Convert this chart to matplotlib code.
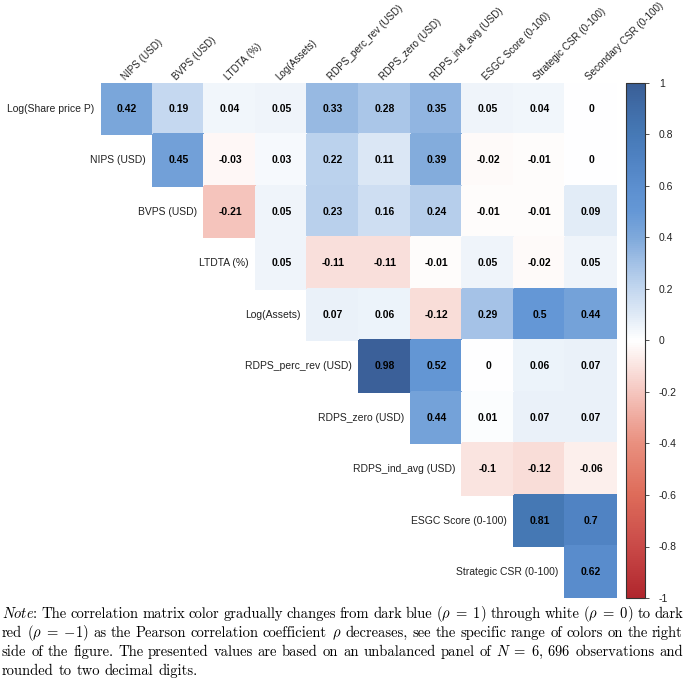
import re
import numpy as np
import matplotlib
matplotlib.use('Agg')
import matplotlib.pyplot as plt
from matplotlib.colors import LinearSegmentedColormap

plt.rcParams['mathtext.fontset'] = 'cm'
plt.rcParams['font.family'] = 'Liberation Sans'

row_labels = ['Log(Share price P)', 'NIPS (USD)', 'BVPS (USD)', 'LTDTA (%)',
              'Log(Assets)', 'RDPS_perc_rev (USD)', 'RDPS_zero (USD)',
              'RDPS_ind_avg (USD)', 'ESGC Score (0-100)', 'Strategic CSR (0-100)']
col_labels = ['NIPS (USD)', 'BVPS (USD)', 'LTDTA (%)', 'Log(Assets)',
              'RDPS_perc_rev (USD)', 'RDPS_zero (USD)', 'RDPS_ind_avg (USD)',
              'ESGC Score (0-100)', 'Strategic CSR (0-100)', 'Secondary CSR (0-100)']

# upper triangle, row i starts at column i
corr_rows = [
    [0.42, 0.19, 0.04, 0.05, 0.33, 0.28, 0.35, 0.05, 0.04, 0],
    [0.45, -0.03, 0.03, 0.22, 0.11, 0.39, -0.02, -0.01, 0],
    [-0.21, 0.05, 0.23, 0.16, 0.24, -0.01, -0.01, 0.09],
    [0.05, -0.11, -0.11, -0.01, 0.05, -0.02, 0.05],
    [0.07, 0.06, -0.12, 0.29, 0.5, 0.44],
    [0.98, 0.52, 0, 0.06, 0.07],
    [0.44, 0.01, 0.07, 0.07],
    [-0.1, -0.12, -0.06],
    [0.81, 0.7],
    [0.62],
]

cbar_ticks = [1, 0.8, 0.6, 0.4, 0.2, 0, -0.2, -0.4, -0.6, -0.8, -1]

note_lines = [
    r'$\mathit{Note}$: The correlation matrix color gradually changes from dark blue $(\rho\;=\;1)$ through white $(\rho\;=\;0)$ to dark',
    r'red $(\rho\;=\;{-1})$ as the Pearson correlation coefficient $\rho$ decreases, see the specific range of colors on the right',
    r'side of the figure. The presented values are based on an unbalanced panel of $N\;=\;6,\,696$ observations and',
    r'rounded to two decimal digits.',
]

# colour ramp (value, colour)
ramp = [(-1.0, '#B0262D'), (-0.8, '#C94A48'), (-0.6, '#DE6C5A'),
        (-0.4, '#E9907F'), (-0.3, '#EFAA9E'), (-0.2, '#F5C6BF'),
        (-0.1, '#FAE3DF'), (0.0, '#FFFFFF'), (0.1, '#DFEAF6'),
        (0.2, '#C3D7EF'), (0.3, '#A3C1E6'), (0.4, '#7FA9DB'),
        (0.5, '#6598D6'), (0.6, '#5C8FCF'), (0.7, '#5083C3'),
        (0.8, '#4679B6'), (0.9, '#406DA8'), (1.0, '#3A5E96')]
cmap = LinearSegmentedColormap.from_list(
    'corr', [((v + 1) / 2, c) for v, c in ramp])

n = len(col_labels)
M = np.full((n, n), np.nan)
for i, vals in enumerate(corr_rows):
    M[i, i:] = vals

W, H = 685, 687
fig = plt.figure(figsize=(W / 100, H / 100), dpi=100)
ax = fig.add_axes([101 / W, 1 - 598 / H, 516 / W, 515 / H])
edges = np.arange(n + 1) - 0.5
mesh = ax.pcolormesh(edges, edges, np.ma.masked_invalid(M), cmap=cmap,
                     vmin=-1, vmax=1, edgecolors='face', linewidth=0.3)
ax.set_xlim(-0.5, n - 0.5)
ax.set_ylim(n - 0.5, -0.5)
ax.axis('off')

for i, vals in enumerate(corr_rows):
    for k, v in enumerate(vals):
        ax.text(i + k, i, f'{v:g}', ha='center', va='center',
                fontsize=7.5, fontweight='bold', color='black')
    ax.text(i - 0.63, i, row_labels[i], ha='right', va='center',
            fontsize=7.5, color='#222222')

for j, lab in enumerate(col_labels):
    ax.text(j - 0.03, -0.54, lab, rotation=45, ha='left', va='baseline',
            rotation_mode='anchor', fontsize=7.1, color='#222222')

cax = fig.add_axes([626 / W, 1 - 598 / H, 19 / W, 515 / H])
cb = fig.colorbar(mesh, cax=cax)
cb.set_ticks(cbar_ticks)
cb.set_ticklabels([f'{t:g}' for t in cbar_ticks])
cb.outline.set_edgecolor('#333333')
cb.outline.set_linewidth(0.8)
cax.tick_params(length=3, width=0.6, color='#333333', labelsize=7.5,
                labelcolor='#222222', pad=7)

# note text below, justified word by word
renderer = fig.canvas.get_renderer()
fs = 10.5
x0, x1 = 2, 683
baselines = [618, 637, 656, 675]
for li, (line, yb) in enumerate(zip(note_lines, baselines)):
    tokens = re.findall(r'(?:\$[^$]*\$|[^\s$])+', line)
    texts = [fig.text(0, 1 - yb / H, t, fontsize=fs, family='cmr10',
                      va='baseline', ha='left') for t in tokens]
    widths = [t.get_window_extent(renderer).width for t in texts]
    if li < len(note_lines) - 1:
        gap = (x1 - x0 - sum(widths)) / (len(tokens) - 1)
    else:
        gap = 0.33 * fs * 100 / 72
    x = x0
    for t, w in zip(texts, widths):
        t.set_x(x / W)
        x += w + gap

fig.savefig('out.png', dpi=100)
